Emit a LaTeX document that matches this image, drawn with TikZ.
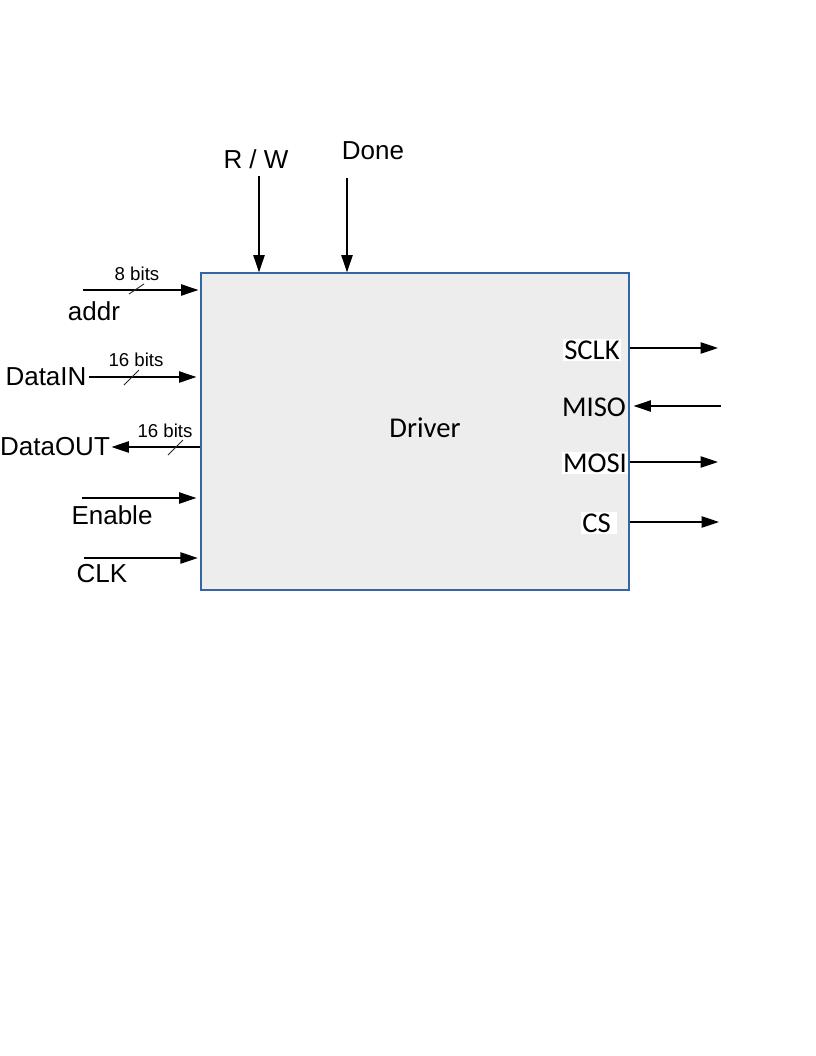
\documentclass[tikz,border=0pt]{standalone}
\usepackage{fontspec}
\setmainfont{Liberation Sans}
\newfontfamily\spifont{Carlito}
\usepackage{tikz}
\usetikzlibrary{positioning,arrows.meta}
\definecolor{boxedge}{HTML}{3465A4}
\definecolor{boxfill}{HTML}{EDEDED}

\begin{document}
\begin{tikzpicture}[x=0.75pt,y=-0.75pt,
  sig/.style={-{Triangle[length=13pt,width=8.5pt]}, line width=0.9pt},
  lbl/.style={font=\fontsize{19.5}{22}\selectfont, inner sep=0pt},
  bits/.style={font=\fontsize{14}{16}\selectfont, inner sep=0pt},
  spi/.style={font=\spifont\fontsize{21.5}{24}\selectfont, inner sep=1pt},
  slash/.style={line width=0.7pt, black!85}]
\useasboundingbox (0,0) rectangle (816,1056);
\node[draw=boxedge, fill=boxfill, line width=0.9pt, minimum width=321pt, minimum height=237.75pt, inner sep=0pt] (drv) at (415,431.5) {};
\node[spi] (drvlbl) at (425,428) {Driver};
\node[lbl] (rw) at (256,159) {R / W};
\node[lbl] (done) at (373,151) {Done};
\coordinate (rwT) at (259,176);
\coordinate (doneT) at (347,178);
\draw[sig] (rwT) -- (drv.north -| rwT);
\draw[sig] (doneT) -- (drv.north -| doneT);
\node[lbl] (addr) at (94,311) {addr};
\node[bits] (addrw) at (137,274) {8 bits};
\coordinate (addrA) at (83,290);
\draw[sig, shorten >=1.5pt] (addrA) -- (drv.west |- addrA);
\draw[slash] (129,294) -- (144,284);
\node[lbl] (din) at (46,377) {DataIN};
\node[bits] (dinw) at (136,360) {16 bits};
\draw[sig, shorten <=2pt, shorten >=3pt] (din.east) -- (drv.west |- din);
\draw[slash] (124,385) -- (139,370);
\node[lbl] (dout) at (55,447) {DataOUT};
\node[bits] (doutw) at (165,431) {16 bits};
\draw[sig, shorten >=1pt] (drv.west |- dout) -- (dout.east);
\draw[slash] (168,455) -- (183,440);
\node[lbl] (en) at (112,515) {Enable};
\coordinate (enA) at (82,498);
\draw[sig, shorten >=3pt] (enA) -- (drv.west |- enA);
\node[lbl] (clk) at (102,574) {CLK};
\coordinate (clkA) at (84,558);
\draw[sig, shorten >=2pt] (clkA) -- (drv.west |- clkA);
\node[spi, fill=white] (sclk) at (592,350) {SCLK};
\node[spi] (miso) at (594,407) {MISO};
\node[spi, fill=white] (mosi) at (595,463) {MOSI};
\node[spi, fill=white] (cs) at (599,523) {CS\,};
\coordinate (sclkE) at (718,348);
\coordinate (misoE) at (721,406);
\coordinate (mosiE) at (718,462);
\coordinate (csE) at (719,522);
\draw[sig] (drv.east |- sclkE) -- (sclkE);
\draw[sig, shorten >=3pt] (misoE) -- (drv.east |- misoE);
\draw[sig] (drv.east |- mosiE) -- (mosiE);
\draw[sig] (drv.east |- csE) -- (csE);
\end{tikzpicture}
\end{document}
